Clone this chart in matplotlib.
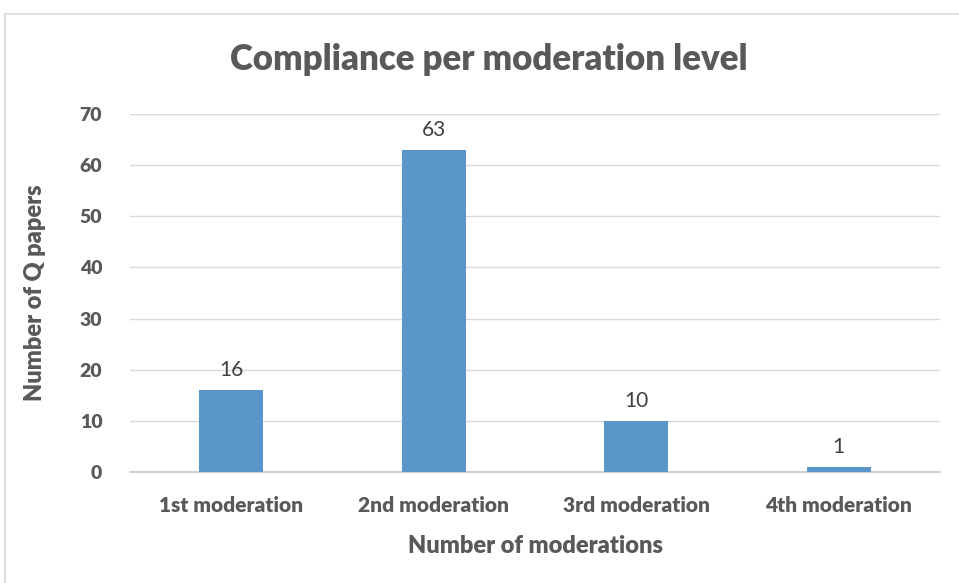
import matplotlib
matplotlib.use("Agg")
import matplotlib.pyplot as plt
from matplotlib.patches import Rectangle

categories = ["1st moderation", "2nd moderation", "3rd moderation", "4th moderation"]
values = [16, 63, 10, 1]
yticks = [0, 10, 20, 30, 40, 50, 60, 70]

plt.rcParams['font.family'] = ['Lato', 'DejaVu Sans']

fig = plt.figure(figsize=(9.59, 5.83), dpi=100)
ax = fig.add_axes([130/959, 1-472/583, (940-130)/959, (472-114)/583])

x = range(len(categories))
ax.bar(x, values, width=0.316, color='#5b96cb', zorder=3)
for xi, v in zip(x, values):
    ax.text(xi, v + 2.0, str(v), ha='center', va='bottom', fontsize=15, color='#404040')

ax.set_xlim(-0.5, len(categories) - 0.5)
ax.set_ylim(0, 70)
ax.set_yticks(yticks)
ax.set_xticks(list(x))
ax.set_xticklabels(categories, fontsize=15, fontweight='heavy', color='#595959')
ax.set_yticklabels([str(t) for t in yticks], fontsize=14, fontweight='heavy', color='#595959')
ax.tick_params(axis='both', length=0)
ax.tick_params(axis='x', pad=17)
ax.tick_params(axis='y', pad=20)
ax.grid(axis='y', color='#d9d9d9', linewidth=1, zorder=0)
for s in ['top', 'right', 'left']:
    ax.spines[s].set_visible(False)
ax.spines['bottom'].set_color('#c8c8c8')
ax.spines['bottom'].set_linewidth(1.2)

ax.set_xlabel("Number of moderations", fontsize=17, fontweight='heavy', color='#595959', labelpad=15)
ax.set_ylabel("Number of Q papers", fontsize=17, fontweight='heavy', color='#595959', va='center')
ax.yaxis.set_label_coords((35 - 130) / 810, 0.5)

fig.text(489/959, 1-60/583, "Compliance per moderation level", ha='center', va='center',
         fontsize=25, fontweight='heavy', color='#595959')

fig.patches.append(Rectangle((5/959, -0.05), 1.1, 1 - 14/583 + 0.05, transform=fig.transFigure,
                             fill=False, edgecolor='#d9d9d9', linewidth=1.2))

fig.savefig("out.png", dpi=100)
